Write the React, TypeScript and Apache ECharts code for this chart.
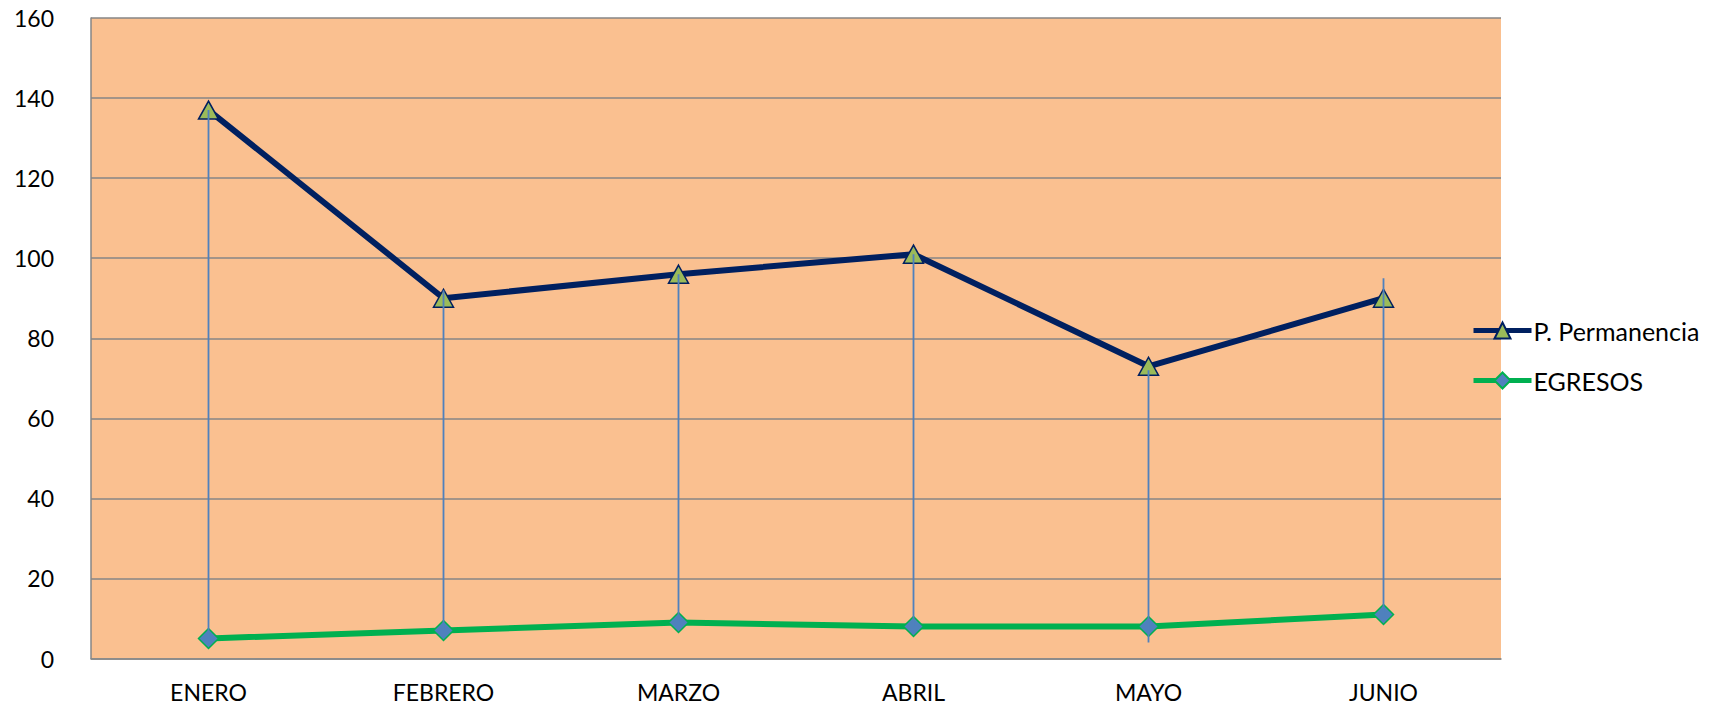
import React, { useEffect, useRef } from "react";
import * as echarts from "echarts";

const categories = ["ENERO", "FEBRERO", "MARZO", "ABRIL", "MAYO", "JUNIO"];
const permanencia = [137, 90, 96, 101, 73, 90];
const egresos = [5, 7, 9, 8, 8, 11];
// vertical connector lines (top and bottom values)
const dropTop = [137, 92, 96, 101, 72, 95];
const dropBottom = [5, 7, 9, 8, 4, 11];
const yTicks = { min: 0, max: 160, interval: 20 };

const FONT = "Lato";

export default function App() {
  const ref = useRef<HTMLDivElement>(null);
  useEffect(() => {
    if (!ref.current) return;
    const chart = echarts.init(ref.current, undefined, { renderer: "svg" });
    const dropData = categories.map((_, i) => [i, dropTop[i], dropBottom[i]]);
    chart.setOption({
      animation: false,
      backgroundColor: "#ffffff",
      textStyle: { fontFamily: FONT },
      grid: {
        left: 91,
        right: 215,
        top: 18,
        bottom: 47.5,
        show: true,
        backgroundColor: "#FAC090",
        borderWidth: 0,
      },
      legend: {
        orient: "vertical",
        left: 1466,
        top: 313,
        itemWidth: 58,
        itemHeight: 20,
        itemGap: 25,
        lineStyle: { width: 5 },
        data: ["P. Permanencia", "EGRESOS"],
        textStyle: { fontFamily: FONT, fontSize: 25, color: "#000", padding: [0, 0, 0, -3] },
      },
      xAxis: {
        type: "category",
        data: categories,
        boundaryGap: true,
        axisLine: { show: true, lineStyle: { color: "#868686", width: 1.5 } },
        axisTick: { show: false },
        axisLabel: { fontFamily: FONT, fontSize: 23, color: "#000", margin: 22, lineHeight: 23 },
        splitLine: { show: false },
      },
      yAxis: {
        type: "value",
        min: yTicks.min,
        max: yTicks.max,
        interval: yTicks.interval,
        axisLine: { show: true, lineStyle: { color: "#868686", width: 1.5 } },
        axisTick: { show: false },
        axisLabel: { fontFamily: FONT, fontSize: 23, color: "#000", margin: 37 },
        splitLine: { show: true, lineStyle: { color: "#868686", width: 1.5 } },
      },
      series: [
        {
          name: "P. Permanencia",
          type: "line",
          data: permanencia,
          symbol: "triangle",
          symbolSize: [20, 18],
          lineStyle: { color: "#002060", width: 6 },
          itemStyle: { color: "#9BBB59", borderColor: "#002060", borderWidth: 1.5 },
          z: 3,
        },
        {
          name: "EGRESOS",
          type: "line",
          data: egresos,
          symbol: "diamond",
          symbolSize: 20,
          lineStyle: { color: "#00B050", width: 6 },
          itemStyle: { color: "#4F81BD", borderColor: "#00B050", borderWidth: 1.5 },
          z: 3,
        },
        {
          name: "drops",
          type: "custom",
          data: dropData,
          z: 5,
          silent: true,
          renderItem: (params: any, api: any) => {
            const top = api.coord([api.value(0), api.value(1)]);
            const bot = api.coord([api.value(0), api.value(2)]);
            return {
              type: "line",
              shape: { x1: top[0], y1: top[1], x2: bot[0], y2: bot[1] },
              style: { stroke: "#4F81BD", lineWidth: 1.8 },
            };
          },
        },
      ],
    });
    return () => chart.dispose();
  }, []);
  return (
    <div
      ref={ref}
      style={{ position: "fixed", left: 0, top: 0, width: 1716, height: 706 }}
    />
  );
}
